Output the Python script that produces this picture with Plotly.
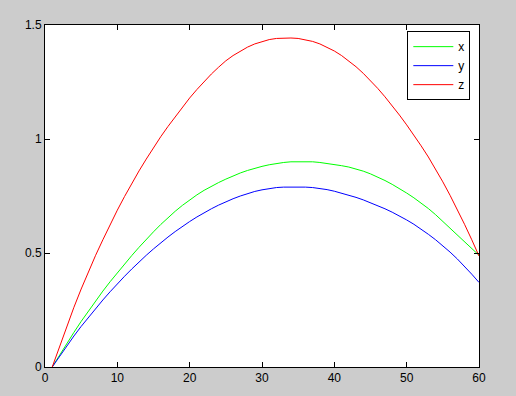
import plotly.graph_objects as go

xs = list(range(1, 61))

x_vals = [0, 0.052, 0.103, 0.152, 0.2, 0.246, 0.29, 0.333, 0.374, 0.414,
          0.452, 0.489, 0.525, 0.56, 0.593, 0.625, 0.655, 0.683, 0.709, 0.733,
          0.755, 0.775, 0.793, 0.809, 0.824, 0.838, 0.851, 0.862, 0.872, 0.88,
          0.887, 0.893, 0.897, 0.9, 0.901, 0.901, 0.9, 0.897, 0.893, 0.888,
          0.883, 0.877, 0.869, 0.859, 0.847, 0.833, 0.818, 0.801, 0.783, 0.763,
          0.742, 0.72, 0.695, 0.668, 0.639, 0.609, 0.579, 0.549, 0.519, 0.49]

y_vals = [0, 0.047, 0.092, 0.136, 0.178, 0.218, 0.257, 0.294, 0.33, 0.365,
          0.398, 0.43, 0.461, 0.49, 0.518, 0.545, 0.57, 0.594, 0.617, 0.638,
          0.658, 0.677, 0.694, 0.71, 0.725, 0.738, 0.75, 0.761, 0.77, 0.777,
          0.783, 0.787, 0.789, 0.79, 0.79, 0.789, 0.787, 0.783, 0.778, 0.771,
          0.763, 0.754, 0.744, 0.733, 0.721, 0.708, 0.694, 0.679, 0.663, 0.645,
          0.626, 0.605, 0.582, 0.558, 0.532, 0.504, 0.474, 0.442, 0.407, 0.371]

z_vals = [0, 0.09, 0.178, 0.262, 0.342, 0.418, 0.49, 0.558, 0.625, 0.688,
          0.748, 0.805, 0.86, 0.912, 0.962, 1.01, 1.055, 1.098, 1.14, 1.18,
          1.217, 1.252, 1.285, 1.315, 1.343, 1.366, 1.386, 1.403, 1.417, 1.428,
          1.436, 1.441, 1.443, 1.443, 1.441, 1.436, 1.428, 1.417, 1.403, 1.386,
          1.366, 1.343, 1.317, 1.288, 1.256, 1.222, 1.185, 1.146, 1.105, 1.062,
          1.017, 0.97, 0.921, 0.868, 0.812, 0.753, 0.691, 0.626, 0.558, 0.487]

series_names = ["x", "y", "z"]
series_colors = ["#00ff00", "#0000ff", "#ff0000"]
series_data = [x_vals, y_vals, z_vals]

x_ticks = [0, 10, 20, 30, 40, 50, 60]
y_ticks = [0, 0.5, 1, 1.5]
y_tick_text = ["0", "0.5", "1", "1.5"]

fig = go.Figure()
for name, color, vals in zip(series_names, series_colors, series_data):
    fig.add_trace(go.Scatter(x=xs, y=vals, mode="lines", name=name,
                             line=dict(color=color, width=1)))

axis_common = dict(showgrid=False, zeroline=False, showline=True, linecolor="black",
                   linewidth=1, mirror="ticks", ticks="inside", ticklen=5,
                   tickcolor="black", tickwidth=1,
                   tickfont=dict(family="Liberation Sans, Arial", size=12, color="black"))

fig.update_xaxes(range=[0, 60], tickvals=x_ticks, **axis_common)
fig.update_yaxes(range=[0, 1.5], tickvals=y_ticks, ticktext=y_tick_text, **axis_common)

fig.update_layout(
    width=516, height=396,
    margin=dict(l=45, r=37, t=25, b=29),
    paper_bgcolor="#cccccc", plot_bgcolor="white",
    legend=dict(x=0.98, y=0.982, xanchor="right", yanchor="top",
                bgcolor="white", bordercolor="black", borderwidth=1,
                itemwidth=40,
                font=dict(family="Liberation Sans, Arial", size=12, color="black"),
                tracegroupgap=0),
    showlegend=True,
)

fig.write_html("out.html")
